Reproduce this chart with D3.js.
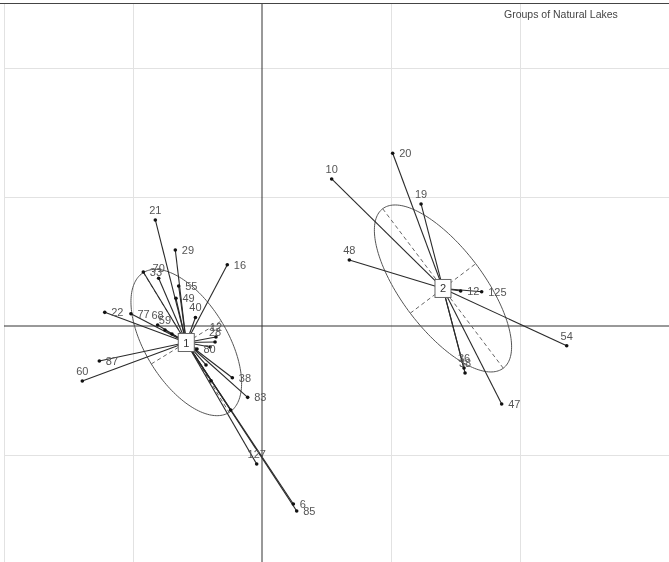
<!DOCTYPE html>
<html><head><meta charset="utf-8">
<script src="https://cdn.jsdelivr.net/npm/d3@7"></script>
<style>
body{margin:0;background:#fff;}
svg{display:block;font-family:"Liberation Sans",Arial,sans-serif;filter:grayscale(100%);}
</style>
</head><body><div id="chart"></div>
<script>
// ---------- data ----------
const title = "Groups of Natural Lakes";
const xTicks = [-2, -1, 1, 2];
const yTicks = [-1, 1, 2];

const groupNames = ["1", "2"];
const centroidX = [-0.587, 1.403];
const centroidY = [-0.128, 0.291];
const ellipseA = [0.636, 0.775];
const ellipseB = [0.318, 0.318];
const ellipseAngle = [-58.5, -52.9];

const g1Labels = ["16","21","29","33","70","55","49","40","22","77","68","59","","12","28","","80","87","60","","","38","83","","127","6","85"];
const g1X = [-0.269,-0.827,-0.672,-0.920,-0.801,-0.646,-0.667,-0.516,-1.219,-1.016,-0.809,-0.752,-0.698,-0.357,-0.364,-0.403,-0.504,-1.261,-1.393,-0.434,-0.395,-0.230,-0.111,-0.243,-0.041,0.243,0.269];
const g1Y = [0.475,0.822,0.589,0.419,0.370,0.310,0.215,0.066,0.106,0.095,0.008,-0.031,-0.062,-0.085,-0.124,-0.163,-0.178,-0.271,-0.426,-0.302,-0.424,-0.401,-0.553,-0.651,-1.070,-1.380,-1.434];
const g1Above = ["21","70","40","68","59","60","127","12","28"];

const g2Labels = ["20","10","19","48","12","125","54","47","36","38"];
const g2X = [1.013,0.540,1.233,0.677,1.540,1.703,2.362,1.858,1.566,1.574];
const g2Y = [1.339,1.140,0.946,0.512,0.271,0.266,-0.153,-0.605,-0.326,-0.364];
const g2Above = ["10","19","48","54","36","38"];

// ---------- chart ----------
const W = 669, H = 562;
const x = d3.scaleLinear().domain([-2, 3]).range([4, 649]);
const y = d3.scaleLinear().domain([-2, 2.5]).range([584, 3.5]);

const svg = d3.select("#chart").append("svg").attr("width", W).attr("height", H);
svg.append("rect").attr("width", W).attr("height", H).attr("fill", "#fff");

// grid lines via axes
const gx = svg.append("g").attr("transform", `translate(0,${y(2.5)})`)
  .call(d3.axisBottom(x).tickValues(xTicks).tickSize(y(-2) - y(2.5)).tickFormat(""));
gx.select(".domain").remove();
gx.selectAll(".tick line").attr("stroke", "#e2e2e2");

const gy = svg.append("g").attr("transform", `translate(${x(-2)},0)`)
  .call(d3.axisRight(y).tickValues(yTicks).tickSize(x(3.3) - x(-2)).tickFormat(""));
gy.select(".domain").remove();
gy.selectAll(".tick line").attr("stroke", "#e2e2e2");

// zero axes
svg.append("line").attr("x1", x(-2)).attr("x2", W).attr("y1", y(0)).attr("y2", y(0))
  .attr("stroke", "#333").attr("stroke-width", 1);
svg.append("line").attr("x1", x(0)).attr("x2", x(0)).attr("y1", y(2.5)).attr("y2", H)
  .attr("stroke", "#333").attr("stroke-width", 1);
// top frame
svg.append("line").attr("x1", 0).attr("x2", W).attr("y1", y(2.5)).attr("y2", y(2.5))
  .attr("stroke", "#444").attr("stroke-width", 1.2);

svg.append("text").attr("x", 504).attr("y", 18).attr("font-size", 10.5)
  .attr("fill", "#444").text(title);

const groups = [
  {name: groupNames[0], cx: centroidX[0], cy: centroidY[0], a: ellipseA[0], b: ellipseB[0], ang: ellipseAngle[0],
   pts: g1Labels.map((l, i) => ({label: l, x: g1X[i], y: g1Y[i], above: g1Above.includes(l)}))},
  {name: groupNames[1], cx: centroidX[1], cy: centroidY[1], a: ellipseA[1], b: ellipseB[1], ang: ellipseAngle[1],
   pts: g2Labels.map((l, i) => ({label: l, x: g2X[i], y: g2Y[i], above: g2Above.includes(l)}))}
];

const line = d3.line().x(d => x(d[0])).y(d => y(d[1]));

groups.forEach(g => {
  const th = g.ang * Math.PI / 180, c = Math.cos(th), s = Math.sin(th);
  const ring = d3.range(0, 181).map(k => {
    const t = k / 180 * 2 * Math.PI;
    return [g.cx + g.a * Math.cos(t) * c - g.b * Math.sin(t) * s,
            g.cy + g.a * Math.cos(t) * s + g.b * Math.sin(t) * c];
  });
  svg.append("path").attr("d", line(ring)).attr("fill", "none")
    .attr("stroke", "#555").attr("stroke-width", 1);
  svg.append("path").attr("d", line([[g.cx - g.a * c, g.cy - g.a * s], [g.cx + g.a * c, g.cy + g.a * s]]))
    .attr("stroke", "#666").attr("stroke-dasharray", "4,3").attr("fill", "none");
  svg.append("path").attr("d", line([[g.cx + g.b * s, g.cy - g.b * c], [g.cx - g.b * s, g.cy + g.b * c]]))
    .attr("stroke", "#666").attr("stroke-dasharray", "4,3").attr("fill", "none");
});

groups.forEach(g => {
  svg.append("g").selectAll("line").data(g.pts).join("line")
    .attr("x1", x(g.cx)).attr("y1", y(g.cy))
    .attr("x2", d => x(d.x)).attr("y2", d => y(d.y))
    .attr("stroke", "#2a2a2a").attr("stroke-width", 1.1);
});

groups.forEach(g => {
  svg.append("g").selectAll("circle").data(g.pts).join("circle")
    .attr("cx", d => x(d.x)).attr("cy", d => y(d.y)).attr("r", 1.8).attr("fill", "#111");
  svg.append("g").selectAll("text").data(g.pts.filter(d => d.label !== "")).join("text")
    .attr("x", d => d.above ? x(d.x) : x(d.x) + 6.5)
    .attr("y", d => d.above ? y(d.y) - 6 : y(d.y) + 4)
    .attr("text-anchor", d => d.above ? "middle" : "start")
    .attr("font-size", 11).attr("fill", "#555")
    .text(d => d.label);
});

groups.forEach(g => {
  const bx = x(g.cx), by = y(g.cy);
  svg.append("rect").attr("x", bx - 8).attr("y", by - 9).attr("width", 16).attr("height", 18)
    .attr("fill", "#fff").attr("stroke", "#666").attr("stroke-width", 1);
  svg.append("text").attr("x", bx).attr("y", by + 4).attr("text-anchor", "middle")
    .attr("font-size", 11).attr("fill", "#333").text(g.name);
});
</script>
</body></html>
